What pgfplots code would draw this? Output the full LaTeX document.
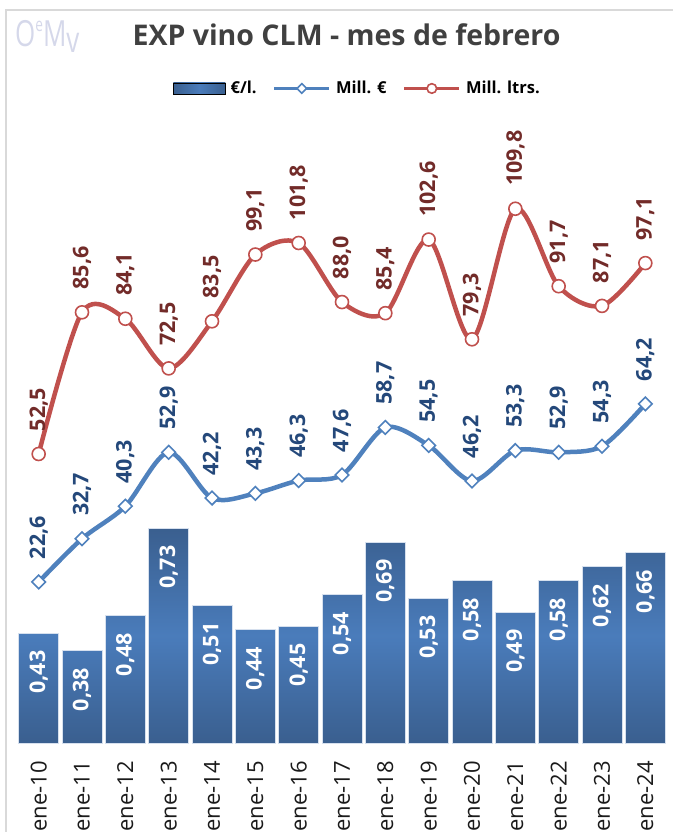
\documentclass[border=0pt]{standalone}
\usepackage{graphicx}
\usepackage{pgfplots}
\pgfplotsset{compat=1.18}
\usepackage{fontspec}
\setmainfont{Open Sans}
\definecolor{barDark}{HTML}{3A5F8F}
\definecolor{barMid}{HTML}{4A7CBB}
\definecolor{barEdge}{HTML}{D6E0EE}
\definecolor{lineBlue}{HTML}{4F81BD}
\definecolor{lineRed}{HTML}{C0504D}
\definecolor{lblBlue}{HTML}{24487A}
\definecolor{lblRed}{HTML}{722B29}
\definecolor{titleGray}{HTML}{404040}
\definecolor{logoC}{HTML}{D5D8EA}
\definecolor{frameC}{HTML}{D9D9D9}
\definecolor{tickC}{HTML}{1A1A1A}

\pgfplotsset{
  lineleg/.style={legend image code/.code={\draw[mark repeat=2, mark phase=2, ##1] plot coordinates {(0pt,0pt) (27.5pt,0pt) (55pt,0pt)};}},
  barleg/.style={legend image code/.code={\fill[left color=barDark, right color=barDark, middle color=barMid] (0pt,-5.6pt) rectangle (52pt,5.6pt);}},
}

\pgfplotstableread{
x eur ltr
0 22.6 52.5
1 32.7 85.6
2 40.3 84.1
3 52.9 72.5
4 42.2 83.5
5 43.3 99.1
6 46.3 101.8
7 47.6 88.0
8 58.7 85.4
9 54.5 102.6
10 46.2 79.3
11 53.3 109.8
12 52.9 91.7
13 54.3 87.1
14 64.2 97.1
}\linedata

\pgfplotstableread{
x pl
0 0.43
1 0.38
2 0.48
3 0.73
4 0.51
5 0.44
6 0.45
7 0.54
8 0.69
9 0.53
10 0.58
11 0.49
12 0.58
13 0.62
14 0.66
}\bardata

\begin{document}
\begin{tikzpicture}
\path[use as bounding box] (0,0) rectangle (672pt,832pt);
\draw[frameC, line width=2pt] (5.5pt,-5pt) -- (5.5pt,821.5pt) -- (680pt,821.5pt);

% logo
\node[anchor=base west, inner sep=0pt, logoC] at (15pt,785pt)
  {\scalebox{0.72}[1]{\fontsize{36}{36}\selectfont O\raisebox{15pt}{\fontsize{19}{19}\selectfont e}M\raisebox{-6pt}{v}}};

% title
\node[anchor=base, inner sep=0pt, titleGray, font=\bfseries\fontsize{28.5}{30}\selectfont] at (346.5pt,786pt) {EXP vino CLM - mes de febrero};

% bars
\begin{axis}[
  at={(17pt,89pt)}, anchor=south west,
  width=650pt, height=638pt, scale only axis,
  xmin=-0.5, xmax=14.5,
  ymin=0.116, ymax=1.939,
  axis line style={draw=none},
  tick style={draw=none},
  major tick length=0pt,
  ytick=\empty,
  xtick={0,...,14},
  xticklabels={ene-10,ene-11,ene-12,ene-13,ene-14,ene-15,ene-16,ene-17,ene-18,ene-19,ene-20,ene-21,ene-22,ene-23,ene-24},
  xticklabel style={rotate=90, anchor=east, inner sep=0pt, font=\fontsize{22}{22}\selectfont, text=tickC},
  xticklabel shift=18pt,
  clip=false,
  ybar, bar width=40pt,
  nodes near coords={\pgfmathprintnumber[fixed,fixed zerofill,precision=2,use comma,assume math mode=true]{\pgfplotspointmeta}},
  every node near coord/.append style={yshift=-17pt, rotate=90, anchor=east, inner sep=0pt, text=white, font=\bfseries\fontsize{21.5}{21.5}\selectfont},
]
\addplot[ybar, draw=barEdge, line width=0.8pt, top color=barDark, bottom color=barDark, middle color=barMid] table[x=x, y=pl] {\bardata};
\end{axis}

% lines
\begin{axis}[
  at={(17pt,89pt)}, anchor=south west,
  width=650pt, height=638pt, scale only axis,
  xmin=-0.5, xmax=14.5,
  ymin=-15.02, ymax=134.04,
  hide axis,
  clip=false,
  legend columns=3,
  legend style={at={(axis description cs:0.24,1.0259)}, anchor=west, draw=none, fill=none, inner sep=0pt,
    nodes={inner sep=0pt}, font=\bfseries\fontsize{16.5}{16.5}\selectfont,
    /tikz/every odd column/.append style={column sep=5pt},
    /tikz/every even column/.append style={column sep=16pt}},
  legend cell align=left,
]
\addlegendimage{barleg}
\addlegendentry{€/l.}

\addplot[smooth, color=lineBlue, line width=4.5pt, mark=square*, mark size=4.8pt,
  mark options={rotate=45, fill=white, draw=lineBlue, line width=1.6pt, solid},
  nodes near coords={\pgfmathprintnumber[fixed,fixed zerofill,precision=1,use comma,assume math mode=true]{\pgfplotspointmeta}},
  every node near coord/.append style={yshift=22pt, rotate=90, anchor=west, inner sep=0pt, text=lblBlue, font=\bfseries\fontsize{21.5}{21.5}\selectfont},
  lineleg, legend image post style={mark size=3.4pt, line width=3.5pt}
] table[x=x, y=eur] {\linedata};
\addlegendentry{Mill. €}

\addplot[smooth, color=lineRed, line width=4.5pt, mark=*, mark size=6.5pt,
  mark options={fill=white, draw=lineRed, line width=1.6pt, solid},
  nodes near coords={\pgfmathprintnumber[fixed,fixed zerofill,precision=1,use comma,assume math mode=true]{\pgfplotspointmeta}},
  every node near coord/.append style={yshift=22pt, rotate=90, anchor=west, inner sep=0pt, text=lblRed, font=\bfseries\fontsize{21.5}{21.5}\selectfont},
  lineleg, legend image post style={mark size=4.8pt, line width=3.5pt}
] table[x=x, y=ltr] {\linedata};
\addlegendentry{Mill. ltrs.}
\end{axis}
\end{tikzpicture}
\end{document}
